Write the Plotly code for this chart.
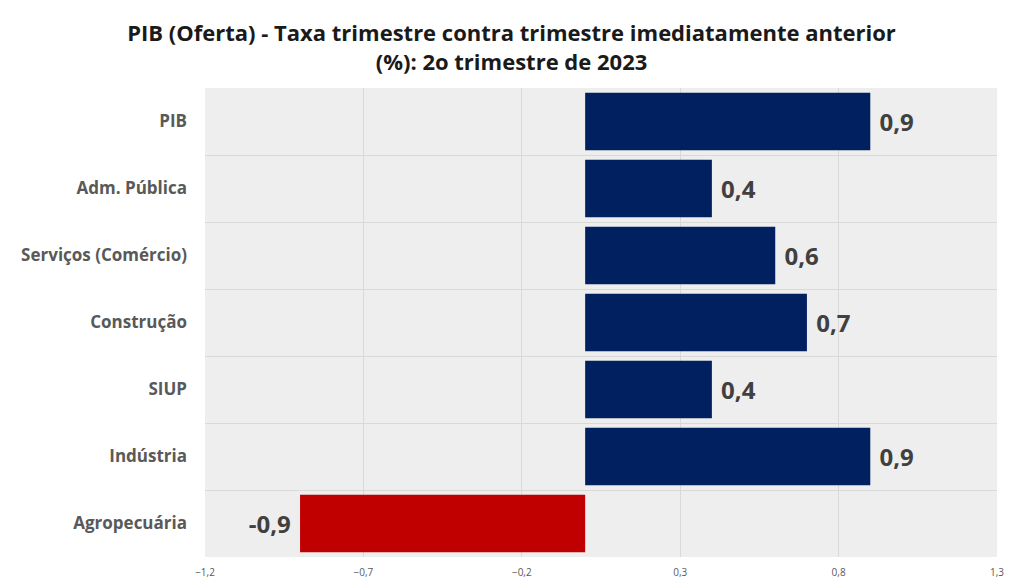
import plotly.graph_objects as go

setores = ["PIB", "Adm. Pública", "Serviços (Comércio)", "Construção", "SIUP", "Indústria", "Agropecuária"]
taxas = [0.9, 0.4, 0.6, 0.7, 0.4, 0.9, -0.9]
cores = ["#002060" if v >= 0 else "#C00000" for v in taxas]
# a little space between bar end and label, on the side the label sits
rotulos = ["\u00a0<b>%{x:.1f}</b>" if v >= 0 else "<b>%{x:.1f}</b>\u00a0" for v in taxas]

fig = go.Figure(go.Bar(
    y=setores,
    x=taxas,
    orientation="h",
    marker=dict(color=cores, line=dict(width=0)),
    width=0.86,
    texttemplate=rotulos,
    textposition="outside",
    textfont=dict(family="Open Sans", size=24, color="#404040"),
    cliponaxis=False,
))

# page body adds an 8px margin, so the figure is a bit smaller than the window
fig.update_layout(
    width=1007,
    height=572,
    separators=",.",
    margin=dict(l=197, r=18, t=80, b=23),
    paper_bgcolor="white",
    plot_bgcolor="#eeeeee",
    showlegend=False,
    title=dict(
        text="<b>PIB (Oferta) - Taxa trimestre contra trimestre imediatamente anterior<br>(%): 2o trimestre de 2023</b>",
        x=0.5, xanchor="center", yref="container", y=0.942, yanchor="top",
        font=dict(family="Open Sans", size=22, color="#1a1a1a"),
    ),
    xaxis=dict(
        range=[-1.2, 1.3],
        tick0=-1.2, dtick=0.5,
        tickformat=".1f",
        showgrid=True, gridcolor="#d9d9d9", gridwidth=1,
        zeroline=False,
        showline=False,
        ticks="",
        automargin=False,
        ticklabelstandoff=8,
        tickfont=dict(family="Open Sans", size=10, color="#595959"),
    ),
    yaxis=dict(
        autorange="reversed",
        tickson="boundaries",
        showgrid=True, gridcolor="#d9d9d9", gridwidth=1,
        ticks="",
        automargin=False,
        ticklabelstandoff=17,
        tickfont=dict(family="Open Sans", size=17, color="#595959", weight="bold"),
    ),
)

fig.write_html("out.html")
